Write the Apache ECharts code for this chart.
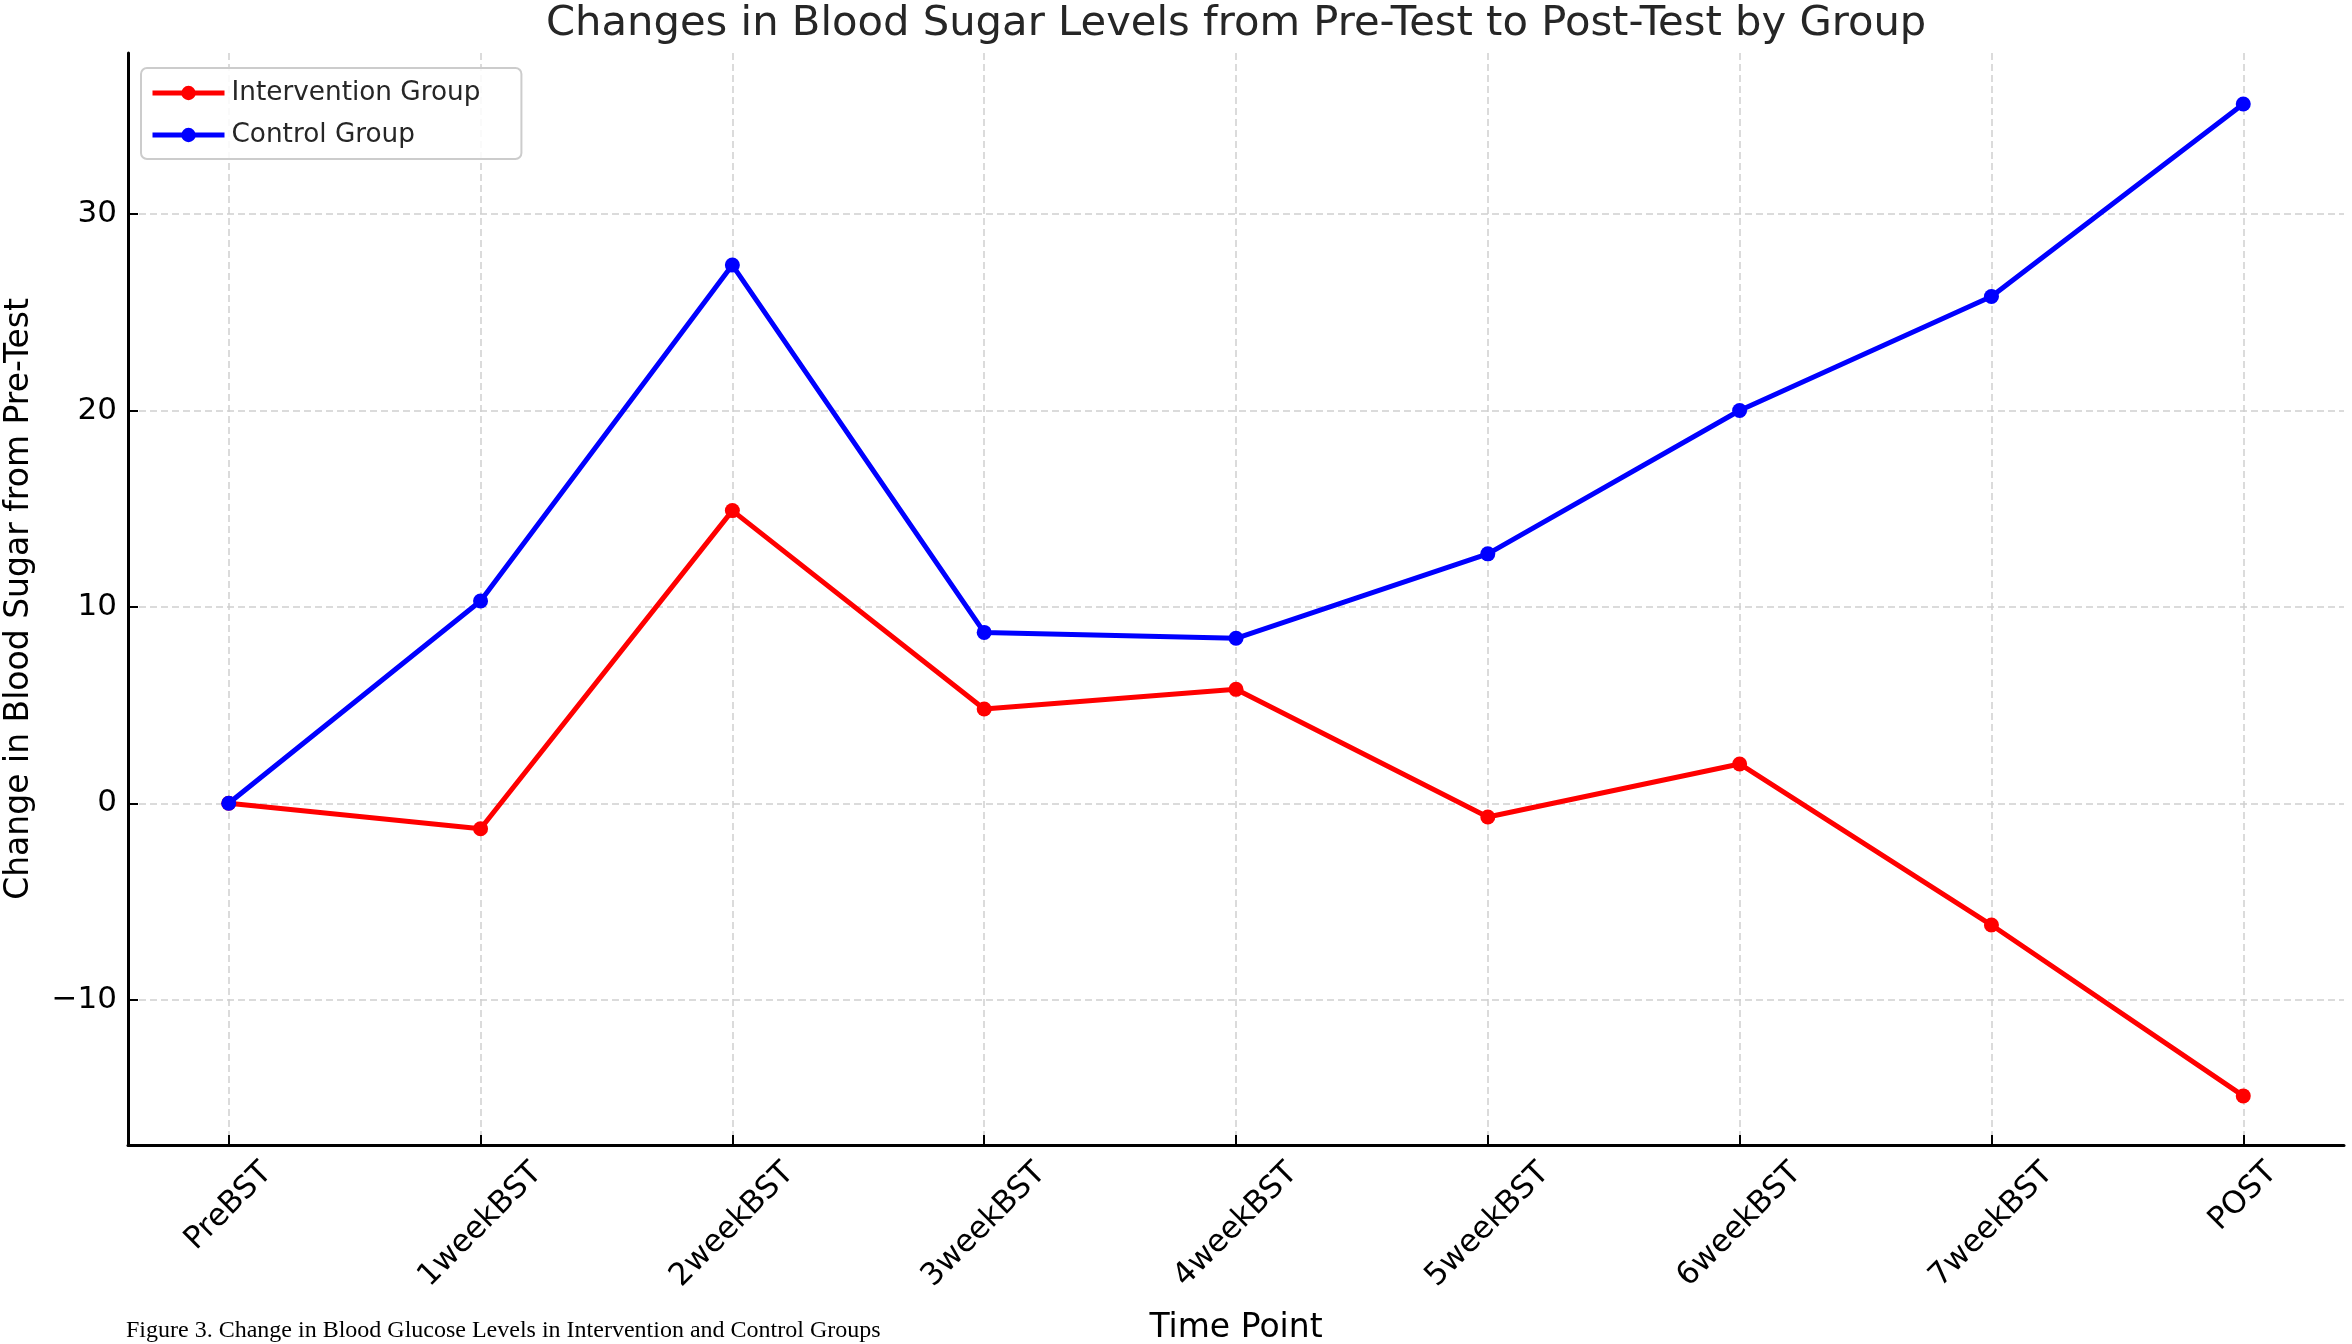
<!DOCTYPE html>
<html><head><meta charset="utf-8">
<script src="https://cdn.jsdelivr.net/npm/echarts@6/dist/echarts.min.js"></script>
<style>html,body{margin:0;padding:0;background:#fff}#chart{width:2352px;height:1344px}</style>
</head><body><div id="chart"></div>
<script>
const titleText = 'Changes in Blood Sugar Levels from Pre-Test to Post-Test by Group';
const xAxisTitle = 'Time Point';
const yAxisTitle = 'Change in Blood Sugar from Pre-Test';
const captionText = 'Figure 3. Change in Blood Glucose Levels in Intervention and Control Groups';
const categories = ['PreBST', '1weekBST', '2weekBST', '3weekBST', '4weekBST', '5weekBST', '6weekBST', '7weekBST', 'POST'];
const seriesNames = ['Intervention Group', 'Control Group'];
const intervention = [0, -1.3, 14.9, 4.8, 5.8, -0.7, 2.0, -6.2, -14.9];
const control = [0, 10.3, 27.4, 8.7, 8.4, 12.7, 20.0, 25.8, 35.6];
const yTickValues = [-10, 0, 10, 20, 30];
const xTickValues = categories.map((c, i) => i);
const seriesColors = ['#ff0000', '#0000ff'];

const FONT = '"DejaVu Sans", sans-serif';
const ctx = document.createElement('canvas').getContext('2d');
function textW(t, size) { ctx.font = size + 'px "DejaVu Sans"'; return ctx.measureText(t).width; }

const tickFont = 31;
const rich = {};
categories.forEach((c, i) => {
  const L = textW(c, tickFont);
  const p = Math.round((L + 0.73 * tickFont) / 2);
  rich['c' + i] = { fontSize: tickFont, fontFamily: FONT, color: '#000', padding: [p, p, 0, 0] };
});

const titleSize = 41.7;
const titleLeft = Math.round(1236 - textW(titleText, titleSize) / 2);

const gridLine = { show: true, lineStyle: { color: '#cfcfcf', width: 1.5, type: [7, 4] } };
const lineW = 5;

const chart = echarts.init(document.getElementById('chart'), null, { renderer: 'canvas' });
chart.setOption({
  animation: false,
  backgroundColor: '#fff',
  title: {
    text: titleText, left: titleLeft, top: 3, padding: 0,
    textStyle: { fontFamily: FONT, fontSize: titleSize, fontWeight: 'normal', color: '#262626' }
  },
  legend: {
    orient: 'vertical', left: 141, top: 68,
    padding: [10, 41, 9, 9], itemGap: 12, itemWidth: 72, itemHeight: 18,
    backgroundColor: 'rgba(255,255,255,0.85)', borderColor: '#cccccc', borderWidth: 2, borderRadius: 6,
    textStyle: { fontFamily: FONT, fontSize: 26.3, color: '#262626', lineHeight: 30, padding: [0, 0, 0, 2] },
    lineStyle: { width: lineW },
    data: seriesNames.map((n, i) => ({ name: n, lineStyle: { width: lineW, color: seriesColors[i] } }))
  },
  grid: { left: 128, right: 8, top: 53, bottom: 199, containLabel: false, outerBoundsMode: 'none' },
  xAxis: {
    type: 'value', min: -0.4, max: 8.4,
    name: xAxisTitle, nameLocation: 'middle', nameGap: 167,
    nameTextStyle: { fontFamily: FONT, fontSize: 33, color: '#000' },
    axisLine: { show: true, onZero: false, lineStyle: { color: '#000', width: 3 } },
    axisTick: { show: true, inside: true, length: 10, customValues: xTickValues, lineStyle: { color: '#000', width: 2 } },
    axisLabel: {
      show: true, customValues: xTickValues, rotate: 45, margin: 15,
      align: 'center', verticalAlign: 'middle',
      formatter: v => '{c' + v + '|' + categories[v] + '}', rich: rich
    },
    splitLine: gridLine
  },
  yAxis: {
    type: 'value', min: -17.4, max: 38.2,
    name: yAxisTitle, nameLocation: 'middle', nameGap: 92,
    nameTextStyle: { fontFamily: FONT, fontSize: 33, color: '#000' },
    axisLine: { show: true, onZero: false, lineStyle: { color: '#000', width: 3 } },
    axisTick: { show: true, inside: true, length: 10, customValues: yTickValues, lineStyle: { color: '#000', width: 2 } },
    axisLabel: {
      show: true, customValues: yTickValues, margin: 11,
      fontFamily: FONT, fontSize: tickFont, color: '#000',
      formatter: v => (v < 0 ? '\u2212' + Math.abs(v) : String(v))
    },
    splitLine: gridLine
  },
  series: [
    {
      name: seriesNames[0], type: 'line', symbol: 'circle', symbolSize: 15,
      lineStyle: { color: seriesColors[0], width: lineW }, itemStyle: { color: seriesColors[0] },
      data: intervention.map((v, i) => [i, v]), z: 2
    },
    {
      name: seriesNames[1], type: 'line', symbol: 'circle', symbolSize: 15,
      lineStyle: { color: seriesColors[1], width: lineW }, itemStyle: { color: seriesColors[1] },
      data: control.map((v, i) => [i, v]), z: 3
    }
  ],
  graphic: [
    { type: 'text', left: 126, top: 1319, style: { text: captionText, font: '24px "Liberation Serif", serif', fill: '#000' } }
  ]
});
</script>
</body></html>
